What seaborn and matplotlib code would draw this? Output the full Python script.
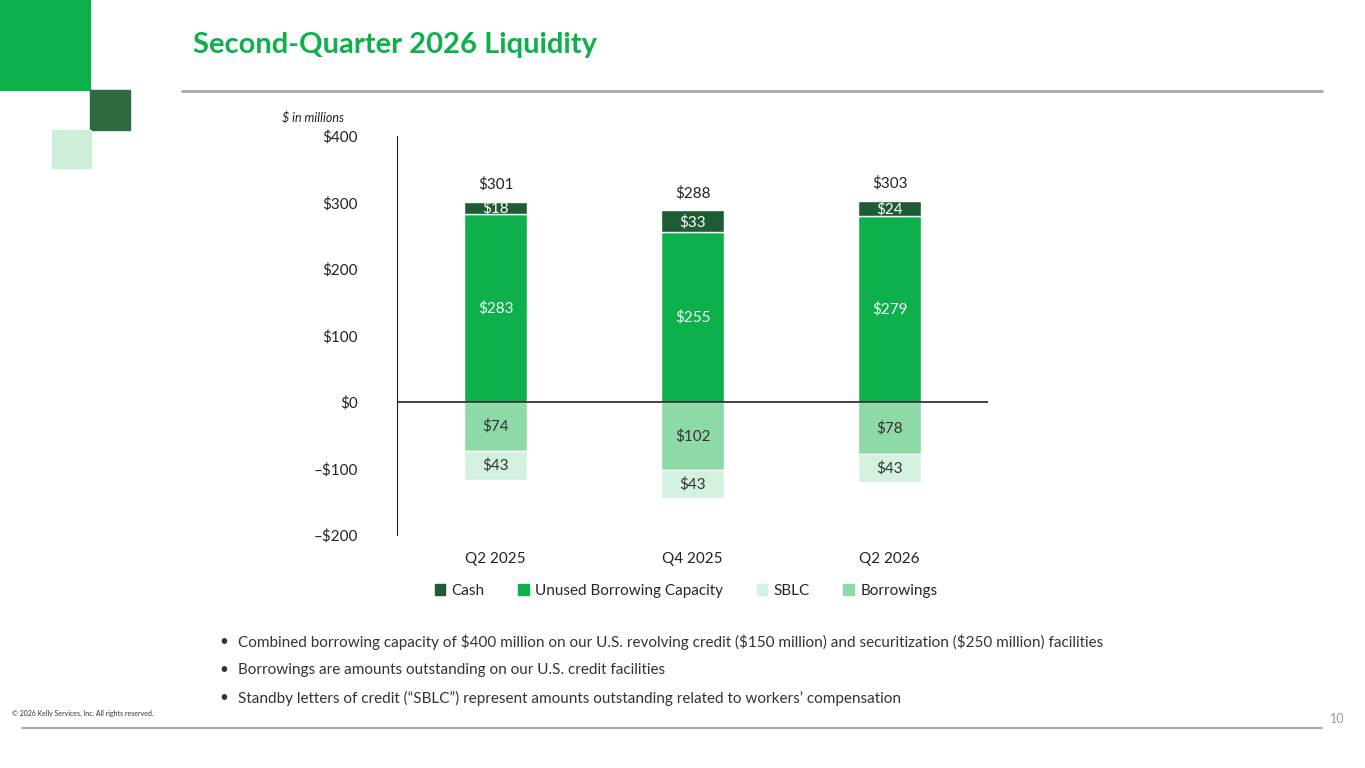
import matplotlib
matplotlib.use("Agg")
import matplotlib.pyplot as plt
import seaborn as sns
import pandas as pd
from matplotlib.patches import Rectangle
from matplotlib.lines import Line2D

categories = ["Q2 2025", "Q4 2025", "Q2 2026"]
cash = [18, 33, 24]
unused = [283, 255, 279]
borrowings = [74, 102, 78]
sblc = [43, 43, 43]
totals = [301, 288, 303]
yticks = [400, 300, 200, 100, 0, -100, -200]

C_CASH = "#1E5C34"; C_UNUSED = "#0DB04B"; C_SBLC = "#D3F2DD"; C_BORR = "#8DD9A7"
GREEN = "#0DB04B"

sns.set_style("white")
plt.rcParams['font.family'] = ['Lato', 'DejaVu Sans']

fig = plt.figure(figsize=(13.65, 7.68), dpi=100)
W, H = 1365, 768
def fx(x): return x / W
def fy(y): return 1 - y / H

# decorations
for (x0, y0, w, h, c) in [(0, 0, 90, 90, GREEN), (90, 90, 40, 40, "#2D6B3F"), (52, 130, 39, 38, "#CDEFD9")]:
    fig.patches.append(Rectangle((fx(x0), fy(y0 + h)), w / W, h / H, transform=fig.transFigure, color=c))
fig.lines.append(Line2D([fx(182), fx(1322)], [fy(91)] * 2, transform=fig.transFigure, color="#A8A8A8", lw=2))
fig.lines.append(Line2D([fx(22), fx(1322)], [fy(728)] * 2, transform=fig.transFigure, color="#A8A8A8", lw=1.5))
fig.text(fx(193), fy(45), "Second-Quarter 2026 Liquidity", color=GREEN, fontsize=21, fontweight="bold", va="center")
fig.text(fx(282), fy(118), "$ in millions", fontsize=9, style="italic", va="center", color="#222222")

ax = fig.add_axes([fx(397), fy(535), (988 - 397) / W, (535 - 136) / H])
df = pd.DataFrame({"cat": categories, "cash": cash, "unused": unused,
                   "borr": [-b for b in borrowings], "sblc": [-s for s in sblc]})
bw = 0.315
sns.barplot(data=df, x="cat", y="unused", color=C_UNUSED, width=bw, ax=ax, saturation=1)
sns.barplot(data=df, x="cat", y="cash", color=C_CASH, width=bw, ax=ax, saturation=1, bottom=df["unused"])
sns.barplot(data=df, x="cat", y="borr", color=C_BORR, width=bw, ax=ax, saturation=1)
sns.barplot(data=df, x="cat", y="sblc", color=C_SBLC, width=bw, ax=ax, saturation=1, bottom=df["borr"])

for i in range(3):
    ax.text(i, unused[i] / 2, f"${unused[i]}", ha="center", va="center", color="white", fontsize=11)
    ax.text(i, unused[i] + cash[i] / 2 - 1, f"${cash[i]}", ha="center", va="center", color="white", fontsize=11)
    ax.text(i, totals[i] + 26, f"${totals[i]}", ha="center", va="center", color="#222222", fontsize=11)
    ax.text(i, -borrowings[i] / 2, f"${borrowings[i]}", ha="center", va="center", color="#333333", fontsize=11)
    ax.text(i, -borrowings[i] - sblc[i] / 2, f"${sblc[i]}", ha="center", va="center", color="#333333", fontsize=11)

ax.set_xlim(-0.5, 2.5)
ax.set_ylim(-200, 400)
ax.set_yticks(yticks)
ax.set_yticklabels([("$" + str(v)) if v >= 0 else ("–$" + str(-v)) for v in yticks], fontsize=11, color="#222222")
ax.tick_params(axis="x", labelsize=11, colors="#222222", length=0, pad=12)
ax.tick_params(axis="y", length=0, pad=28)
ax.set_xlabel(""); ax.set_ylabel("")
for s in ["top", "right", "bottom"]:
    ax.spines[s].set_visible(False)
ax.spines["left"].set_color("#222222")
ax.axhline(0, color="#222222", lw=1.2)

handles = [Rectangle((0, 0), 1, 1, color=c) for c in [C_CASH, C_UNUSED, C_SBLC, C_BORR]]
fig.legend(handles, ["Cash", "Unused Borrowing Capacity", "SBLC", "Borrowings"], loc="center",
           bbox_to_anchor=(fx(686), fy(591)), ncol=4, frameon=False, fontsize=11,
           handlelength=0.7, handleheight=0.7, handletextpad=0.4, columnspacing=2.2)

bullets = ["Combined borrowing capacity of $400 million on our U.S. revolving credit ($150 million) and securitization ($250 million) facilities",
           "Borrowings are amounts outstanding on our U.S. credit facilities",
           "Standby letters of credit (“SBLC”) represent amounts outstanding related to workers’ compensation"]
for k, b in enumerate(bullets):
    y = 642 + k * 28
    fig.text(fx(219), fy(y), "•", fontsize=11, va="center", color="#333333")
    fig.text(fx(238), fy(y), b, fontsize=11, va="center", color="#333333")
fig.text(fx(12), fy(713), "© 2026 Kelly Services, Inc. All rights reserved.", fontsize=5, va="center", color="#333333")
fig.text(fx(1344), fy(719), "10", fontsize=9, va="center", ha="right", color="#999999")

fig.savefig("out.png", dpi=100)
